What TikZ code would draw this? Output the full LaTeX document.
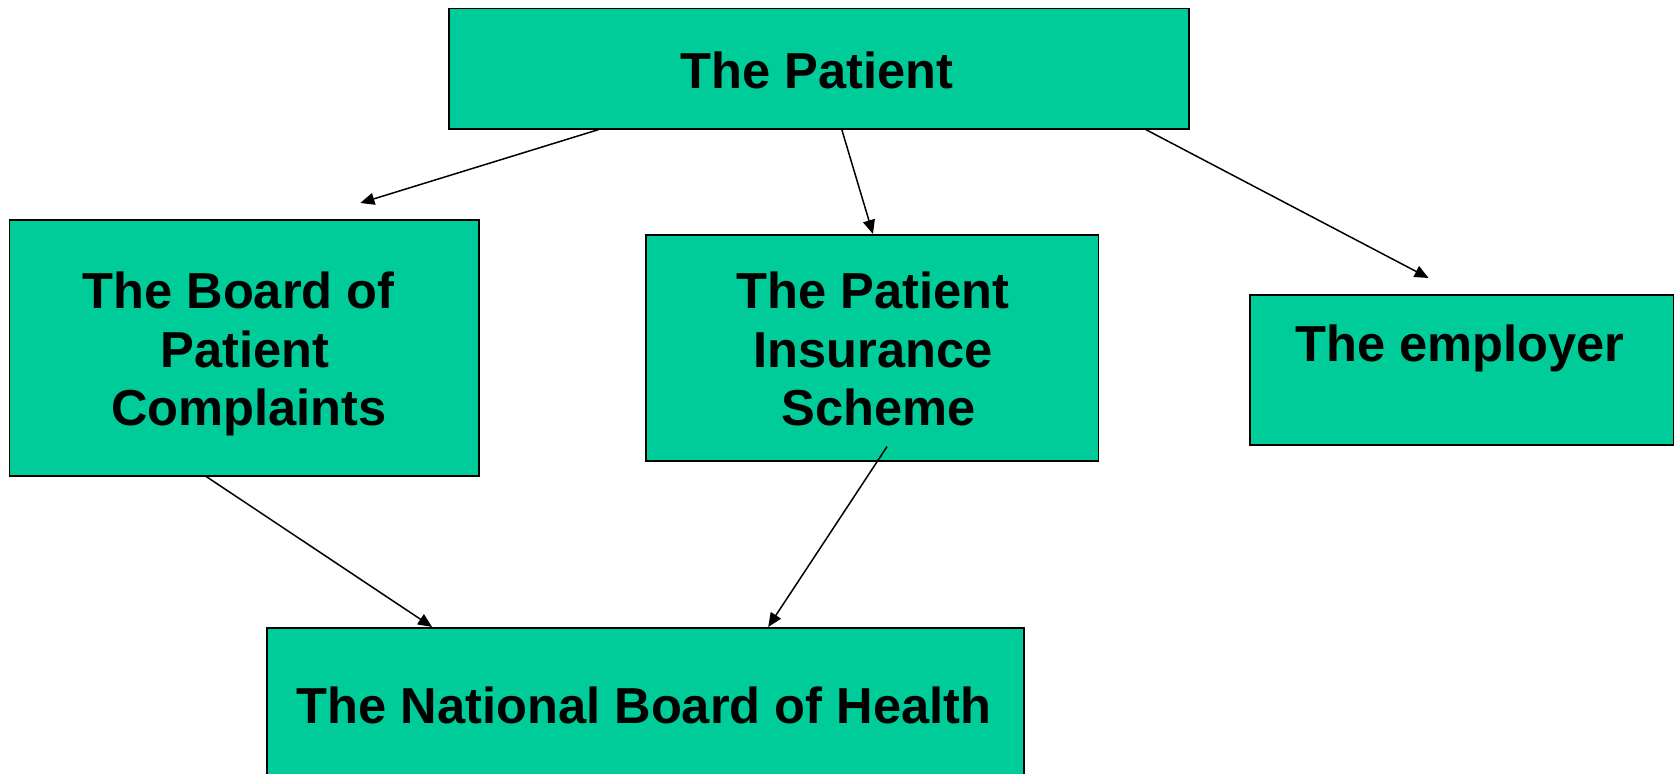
\documentclass[tikz,border=0pt]{standalone}
\usepackage{fontspec}
\setmainfont{Liberation Sans}
\usetikzlibrary{arrows.meta,calc}
\definecolor{boxgreen}{RGB}{0,204,153}
\begin{document}
\begin{tikzpicture}[x=1pt,y=-1pt,
  box/.style={draw=black, line width=1.6pt, fill=boxgreen, inner sep=0pt, anchor=north west},
  lbl/.style={inner sep=0pt, font=\fontsize{50.6}{58.7}\selectfont\bfseries, align=center},
  conn/.style={line width=1.5pt, -{Triangle[length=14pt,width=12pt]}}]
\useasboundingbox (0,0) rectangle (1674,774);
\clip (0,0) rectangle (1674,774);
\fill[white] (0,0) rectangle (1674,774);
\node[box, minimum width=740pt, minimum height=120.5pt] (pat) at (448,7.5) {};
\node[box, minimum width=469.5pt, minimum height=256pt] (board) at (8.5,219) {};
\node[box, minimum width=452.5pt, minimum height=226pt] (pis) at (645,234) {};
\node[box, minimum width=424pt, minimum height=150pt] (emp) at (1249,294) {};
\node[box, minimum width=757pt, minimum height=170pt] (nbh) at (266,627) {};
\node[lbl, anchor=base] (tpat) at (817,88.6) {The Patient};
\node[lbl] (tboard) at (245,354) {The Board of\hspace*{13pt}\\Patient\\\hspace*{8pt}Complaints};
\node[lbl] (tpis) at (873,349) {The Patient\\Insurance\\\hspace*{12pt}Scheme};
\node[lbl, anchor=base] (temp) at (1460,361) {The employer};
\node[lbl, anchor=base] (tnbh) at (644,723) {The National Board of Health};
\draw[conn] ($(pat.south west)!0.203!(pat.south east)$) -- ([yshift=16pt]$(board.north west)!0.747!(board.north east)$);
\draw[conn] ($(pat.south west)!0.531!(pat.south east)$) -- ($(pis.north west)!0.502!(pis.north east)$);
\draw[conn] ($(pat.south west)!0.941!(pat.south east)$) -- ([yshift=16pt]$(emp.north west)!0.422!(emp.north east)$);
\draw[conn] ($(board.south west)!0.42!(board.south east)$) -- ($(nbh.north west)!0.219!(nbh.north east)$);
\draw[conn] ([yshift=15pt]$(pis.south west)!0.533!(pis.south east)$) -- ($(nbh.north west)!0.662!(nbh.north east)$);
\end{tikzpicture}
\end{document}
